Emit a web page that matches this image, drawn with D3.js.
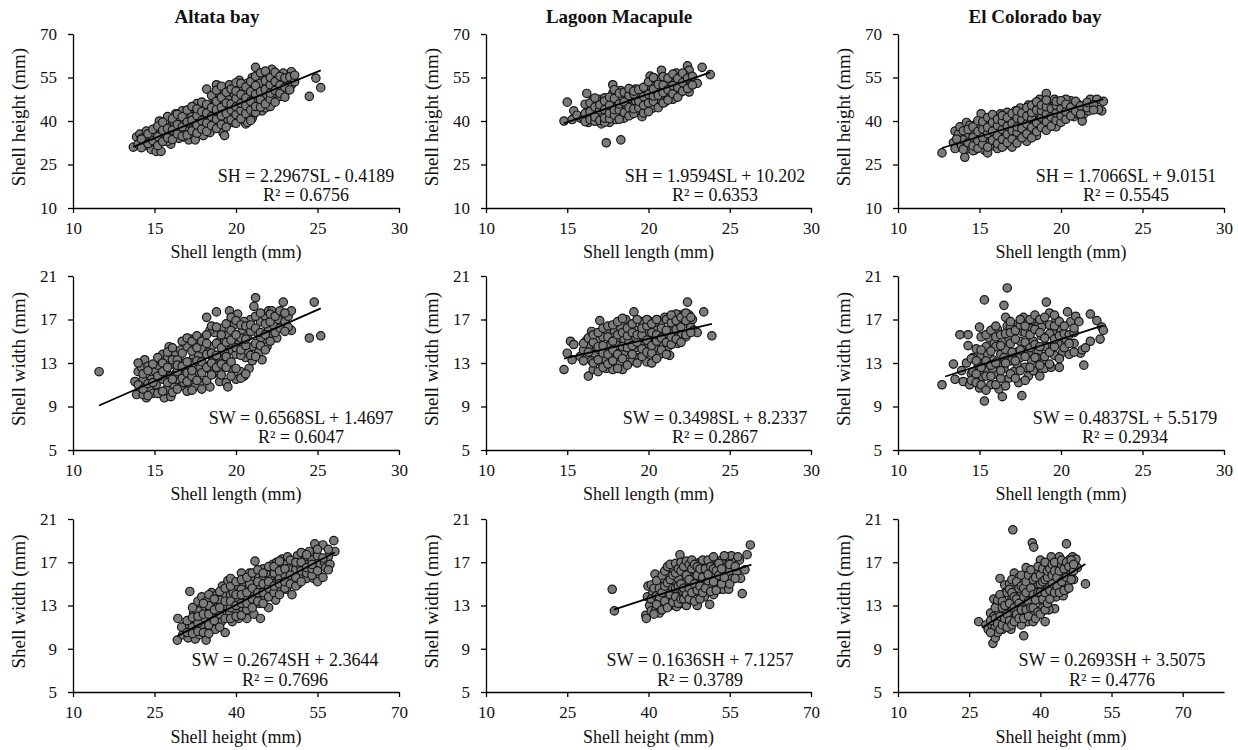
<!DOCTYPE html>
<html>
<head>
<meta charset="utf-8">
<title>Shell morphometry</title>
<style>
  body { margin: 0; background: #fff; font-family: "Liberation Serif", "Times New Roman", serif; }
  .axis path, .axis line { stroke: #000; stroke-width: 1.3; }
  .axis text { font-size: 17px; fill: #111; font-family: "Liberation Serif", "Times New Roman", serif; }
  .dot { fill: #7b7b7b; stroke: #151515; stroke-width: 1.2; }
  .trend { stroke: #000; stroke-width: 1.8; fill: none; }
</style>
</head>
<body>
<script src="https://cdn.jsdelivr.net/npm/d3@7"></script>
<script>
// ---- tick labels / titles ----
var slTicks = [10, 15, 20, 25, 30];
var shTicks = [10, 25, 40, 55, 70];
var swTicks = [5, 9, 13, 17, 21];
var sites = ['Altata bay', 'Lagoon Macapule', 'El Colorado bay'];

// ---- equations printed on each panel (row by row) ----
var equations = [
  'SH = 2.2967SL - 0.4189', 'SH = 1.9594SL + 10.202', 'SH = 1.7066SL + 9.0151',
  'SW = 0.6568SL + 1.4697', 'SW = 0.3498SL + 8.2337', 'SW = 0.4837SL + 5.5179',
  'SW = 0.2674SH + 2.3644', 'SW = 0.1636SH + 7.1257', 'SW = 0.2693SH + 3.5075'
];
var rSquared = ['0.6756', '0.6353', '0.5545', '0.6047', '0.2867', '0.2934', '0.7696', '0.3789', '0.4776'];

// trend line end points [[x0,y0],[x1,y1]]
var trends = [
  [[13.7, 31.05], [25.2, 57.46]], [[14.8, 39.2], [23.8, 56.8]], [[12.7, 30.69], [22.6, 47.58]],
  [[11.6, 9.09], [25.2, 18.02]], [[14.8, 13.41], [23.9, 16.59]], [[12.9, 11.76], [22.6, 16.45]],
  [[29.2, 10.17], [58.2, 17.93]], [[33.6, 12.62], [59.0, 16.78]], [[27.8, 10.99], [49.5, 16.84]]
];

// ---- Altata bay: shell length vs shell height ----
var altataSLSH = [
  [13.7,31],[13.9,34.5],[14.0,32],[14.1,35.5],[14.3,33],[14.5,36.5],[14.4,31.5],[14.6,34],[14.8,30.2],[14.9,35.5],[14.2,34],[14.7,32.5],
  [15.1,29.5],[15.4,29.5],[15.2,33],[15.3,36],[15.3,40],[15.6,38],[15.7,34],[15.8,41.5],[15.9,36.5],[16.0,32],[16.1,39],[15.5,35],[16.2,35],[15.1,37.5],[15.8,33],
  [16.3,42.5],[16.4,37],[16.5,34],[16.6,40],[16.7,43.5],[16.8,36],[16.9,38.5],[17.0,41],[17.1,33.5],[16.2,39.5],[16.5,36],[17.0,36.5],[16.8,34.5],[16.4,41],
  [17.2,44],[17.3,39],[17.4,35],[17.5,42],[17.6,46],[17.7,37],[17.8,40.5],[17.9,44.5],[18.0,35],[17.5,33.5],[18.1,38],[18.0,42.5],[17.3,41.5],[17.7,39],[17.4,37],
  [18.2,51],[18.3,40],[18.4,45],[18.5,37],[18.6,48],[18.7,42.5],[18.8,52.5],[18.9,39],[19.0,46],[18.4,36],[18.9,49.5],[19.0,43],[18.6,44],[18.3,42],[18.8,47],
  [19.2,36],[19.3,50],[19.4,44],[19.5,40],[19.6,52.5],[19.7,47],[19.8,42],[19.9,49],[20.0,45],[19.3,35],[19.5,47.5],[20.0,51.5],[19.8,39.5],[19.2,42.5],[19.6,45.5],
  [20.2,54],[20.3,47],[20.4,42],[20.5,50.5],[20.6,39],[20.7,53],[20.8,45],[20.9,48.5],[21.0,41],[20.5,44.5],[21.0,55],[20.7,39.5],[20.3,51.5],[20.8,43],[20.6,47.5],
  [21.2,58.5],[21.3,50],[21.4,46],[21.5,54.5],[21.6,43.5],[21.7,52],[21.8,48],[21.9,56],[22.0,45],[21.5,51],[22.0,50.5],[21.2,47.5],[21.4,53],[21.8,44.5],
  [22.2,57.8],[22.3,53],[22.4,49],[22.5,55.5],[22.6,51.5],[22.8,54],[22.9,56.5],[23.0,50],[23.2,53],[23.4,57],[23.4,52.5],[22.1,45],[22.7,48.5],[22.2,51],
  [24.5,48.5],[24.9,54.8],[25.2,51.5]
];
// extra readings of the dense core: [x, y, y, ...]
var altataSLSHCore = [
  [14.2,30.8,33.8],[14.6,32.2,35.6],[14.9,33.2,37.1],[15.2,31.5,34.6,38.2],[15.5,32.9,36.8,39.6],[15.8,34.2,37.4],[16.1,33.6,36.9,40.8],
  [16.4,35.5,38.8,42.3],[16.7,34.8,38.0,41.5],[17.0,35.2,39.6,43.8],[17.3,36.6,40.2,45.0],[17.6,35.8,38.6,41.9,44.2],[17.9,37.2,40.1,43.2,46.5],
  [18.2,36.4,39.3,42.7,45.7],[18.5,38.4,41.5,44.6,48.8],[18.8,37.4,40.6,43.9,46.8,50.6],[19.1,38.8,41.8,44.7,48.1,52.0],[19.4,37.9,42.6,46.2,49.9],
  [19.7,40.4,43.8,45.9,51.0],[20.0,39.2,42.2,44.9,47.8,50.3,53.2],[20.3,40.8,43.6,46.1,49.2,53.0],[20.6,42.6,45.3,48.0,51.8],[20.9,40.2,43.8,46.8,50.1,53.6],
  [21.2,42.9,45.0,49.3,52.2,55.4],[21.5,44.8,47.4,50.1,56.6],[21.8,45.9,50.9,53.9,57.2],[22.1,47.6,49.6,52.5,55.0],[22.4,46.5,50.6,53.6,56.8],
  [22.7,49.6,52.4,55.4],[23.0,48.2,51.6,54.8],[23.3,50.7,55.2],[23.6,53.5,55.8]
];

// ---- Lagoon Macapule: shell length vs shell height ----
var macapuleSLSH = [
  [14.8,40],[15.0,46.5],[15.4,43.5],[15.3,40.5],[15.8,41],[16.2,49.5],[17.4,32.5],[18.3,33.5],[15.6,42],
  [16.0,41],[16.2,43],[16.3,39.5],[16.5,45],[16.6,47.5],[16.7,42],[16.8,40.5],[16.9,44],[17.0,47.5],[16.4,41.5],[17.0,42.5],[16.6,44],
  [17.1,39],[17.2,45.5],[17.3,48],[17.4,41.5],[17.5,43.5],[17.6,39.5],[17.7,46.5],[17.8,52.5],[17.9,41],[18.0,44.5],[17.5,47],[17.8,49.5],[18.0,40.5],[17.2,42.5],[17.7,44],
  [18.1,47.5],[18.2,42],[18.3,50.5],[18.4,45],[18.5,41],[18.6,48.5],[18.7,43.5],[18.8,46],[18.9,50.5],[19.0,42.5],[18.4,44],[18.9,47.5],[18.2,48.5],[18.6,45.5],
  [19.1,45.5],[19.2,51],[19.3,43],[19.4,48.5],[19.5,46],[19.6,41.5],[19.7,50],[19.8,44.5],[19.9,52],[20.0,47.5],[19.5,49.5],[20.0,44],[19.2,47],[19.7,47.5],
  [20.1,55.5],[20.2,49.5],[20.3,44.5],[20.4,52],[20.5,47.5],[20.6,50.5],[20.7,53.5],[20.8,57.5],[20.9,48],[21.0,51.5],[20.5,54.5],[21.0,46.5],[20.3,50],
  [21.1,54],[21.2,49.5],[21.3,52.5],[21.4,48],[21.5,55],[21.6,51],[21.7,56.5],[21.8,49.5],[21.9,53.5],[22.0,50],[21.5,47.5],[22.0,55.5],[21.6,53],
  [22.1,52],[22.3,54.5],[22.4,59],[22.5,57.5],[22.6,53.5],[22.5,50],[23.0,53],[23.3,58.5],[23.8,56],[22.2,56]
];
var macapuleSLSHCore = [
  [16.1,39.8,42.6,45.8],[16.4,40.5,43.2,46.2],[16.7,39.9,41.4,44.8,47.9],[17.0,40.2,43.8,45.6],[17.3,39.6,41.0,44.0,46.9],[17.6,40.8,42.7,45.4,48.2],
  [17.9,42.0,43.9,47.8,50.8],[18.2,40.6,43.8,45.9,49.6],[18.5,42.9,46.6,49.9],[18.8,41.8,44.6,48.8,51.2],[19.1,42.6,44.2,49.3,50.3],[19.4,44.6,46.8,50.9],
  [19.7,42.8,45.4,48.4,51.6],[20.0,43.2,46.2,49.2,53.5],[20.3,46.8,48.6,51.0,55.0],[20.6,44.6,48.9,52.6],[20.9,46.2,49.8,52.4,55.3],[21.2,47.2,50.8,54.8],
  [21.5,49.4,52.2,56.2],[21.8,48.2,51.6,54.6],[22.1,50.3,53.2,56.5],[22.4,51.2,54.8],[22.7,52.4,55.4]
];

// ---- El Colorado bay: shell length vs shell height ----
var coloradoSLSH = [
  [12.7,29],[13.4,32.5],[13.5,30.5],[13.5,36.5],[13.7,35.5],[13.8,38],[13.9,31.5],[14.1,27.5],[14.2,39.5],[14.3,35],[14.3,30.5],[14.0,33.5],
  [14.4,38.5],[14.5,33],[14.6,36],[14.7,30],[14.8,39],[14.9,34.5],[15.0,31.5],[15.0,37.5],[14.6,29.8],[14.8,32],
  [15.1,42.5],[15.2,35.5],[15.3,30],[15.4,38.5],[15.5,33],[15.5,29],[15.6,40.5],[15.7,36],[15.8,31.5],[15.9,38],[16.0,34],[16.0,41.5],[15.3,33.5],[15.6,35],
  [16.1,30.5],[16.2,37],[16.3,42.5],[16.4,35],[16.5,31.5],[16.6,39.5],[16.7,43],[16.8,36.5],[16.9,33],[17.0,40.5],[16.5,38],[17.0,31],[16.3,33.5],[16.8,34.5],
  [17.1,37.5],[17.2,43.5],[17.3,34.5],[17.4,40],[17.5,44.5],[17.6,36],[17.7,41.5],[17.8,38.5],[17.9,33],[18.0,45.5],[17.5,38.5],[18.0,42],[17.2,39.5],[17.8,36],
  [18.1,36],[18.2,43],[18.3,40],[18.4,46],[18.5,37.5],[18.6,42],[18.7,47.5],[18.8,39],[18.9,44.5],[19.0,41],[18.5,35],[19.0,46.5],[18.3,44.5],[18.7,40.5],
  [19.1,49.5],[19.2,43],[19.3,39.5],[19.4,46],[19.5,42],[19.6,47.5],[19.7,38],[19.8,44],[19.9,40.5],[20.0,45.5],[19.5,45],[20.0,42],
  [20.2,41],[20.4,44.5],[20.5,43],[20.6,47],[20.8,41.5],[21.0,46],[20.3,47.5],[20.7,44.5],[21.0,42.5],
  [21.2,44.5],[21.3,40],[21.4,42.5],[21.5,45.5],[21.8,47.5],[21.7,43.5],[22.2,47.5],[22.5,43.5],[22.6,46.8],[22.3,44]
];
var coloradoSLSHCore = [
  [13.6,33.8],[14.0,36.6,30.2],[14.3,32.5,37.1],[14.6,31.4,34.4,38.0],[14.9,30.6,33.2,36.4,40.1],[15.2,32.0,34.3,37.2,39.8],[15.5,31.0,35.6,37.8,41.2],
  [15.8,33.4,36.5,39.5,42.2],[16.1,32.2,35.0,38.4,40.6],[16.4,31.0,33.7,37.0,39.8,41.9],[16.7,32.6,35.5,38.2,41.2],[17.0,33.8,36.7,39.2,42.6],
  [17.3,32.4,36.1,38.0,41.0,43.5],[17.6,34.2,37.4,40.4,42.8],[17.9,35.6,39.0,41.7,44.6],[18.2,34.2,37.8,40.9,42.9,45.4],[18.5,36.3,39.4,43.8,46.6],
  [18.8,37.8,41.2,43.5,45.5],[19.1,36.8,39.8,42.4,44.9,47.2],[19.4,38.2,41.4,44.3],[19.7,40.2,42.8,45.4,46.8],[20.0,39.5,41.8,44.2,47.0],
  [20.3,40.6,43.2,45.8],[20.6,41.8,44.8],[20.9,43.4,46.8],[21.2,42.4,45.2],[21.6,44.6,46.4],[22.0,45.6,43.8]
];

// ---- Altata bay: shell length vs shell width ----
var altataSLSW = [
  [11.6,12.2],
  [13.8,11.3],[13.9,10.1],[14.0,12.2],[14.1,10.8],[14.2,12.6],[14.3,11.5],[14.4,13.3],[14.5,9.8],[14.6,12.7],[14.7,10.5],[14.8,11.5],[14.9,10.2],[15.0,12.3],[14.3,10.1],
  [15.1,11],[15.2,12.8],[15.3,10.2],[15.4,13.2],[15.5,11.5],[15.6,9.8],[15.7,12.3],[15.8,10.7],[15.9,14.5],[16.0,11.8],[16.0,9.9],[15.5,13.8],[15.8,13.5],[15.3,11.8],
  [16.1,12.9],[16.2,10.8],[16.3,13.8],[16.4,11.5],[16.5,12.5],[16.6,14.2],[16.7,10.9],[16.8,13],[16.9,11.8],[17.0,14.5],[16.6,12],[17.0,10.4],[16.3,12],[16.8,11.2],
  [17.1,12.5],[17.2,15.2],[17.3,11],[17.4,13.5],[17.5,14.8],[17.6,12],[17.7,13.8],[17.8,11.2],[17.9,14.3],[18.0,12.8],[17.5,10.8],[18.0,15.3],[17.3,13],[17.8,12.6],
  [18.2,17.2],[18.3,12.5],[18.4,10.8],[18.5,14.5],[18.6,12],[18.7,15.8],[18.8,17.7],[18.9,13.5],[19.0,11.3],[19.0,15],[18.4,16],[18.6,13.4],[18.9,12.3],[18.3,14],
  [19.1,16.2],[19.2,13],[19.3,15],[19.4,11.2],[19.5,10.8],[19.6,17.8],[19.7,14.2],[19.8,12.4],[19.9,16.5],[20.0,13.8],[19.5,15.6],[19.8,17.2],[20.0,11.5],[19.3,14],
  [20.1,17.5],[20.2,14.8],[20.3,12.2],[20.4,16],[20.5,11.8],[20.6,13.5],[20.7,15.5],[20.8,12.5],[20.9,17],[21.0,14.5],[20.5,16.8],[21.0,13.2],[20.3,15.3],[20.7,14],
  [21.1,18.2],[21.2,19],[21.3,15.8],[21.4,14],[21.5,16.8],[21.6,13.3],[21.7,15],[21.8,17.3],[21.9,14.5],[22.0,16.2],[21.5,15.3],[22.0,17.8],
  [22.1,15.5],[22.2,17.8],[22.3,16.5],[22.5,15.3],[22.6,17],[22.8,16.3],[22.9,18.6],[23.0,16.8],[23.2,17.3],[23.4,17.8],[23.4,16],[23.2,16.3],
  [24.5,15.3],[24.8,18.6],[25.2,15.5]
];
var altataSLSWCore = [
  [14.0,11.0,13.0],[14.3,10.6,12.0],[14.6,11.1,12.3,10.0],[14.9,11.2,12.9],[15.2,10.2,11.8,13.5],[15.5,10.4,12.2,13.0],[15.8,11.2,12.6,14.0],
  [16.1,10.3,11.5,13.3,14.4],[16.4,10.6,12.2,13.3,12.8],[16.7,11.6,12.7,13.9,15.0],[17.0,11.3,12.1,13.1,15.3],[17.3,10.5,11.8,12.3,14.1,15.0],
  [17.6,11.4,13.2,14.4,15.5],[17.9,10.6,12.1,13.1,15.0],[18.2,11.4,12.6,13.8,14.8,15.6],[18.5,11.9,13.0,13.9,16.4],[18.8,12.6,13.7,14.8,16.3],
  [19.1,11.9,12.9,14.4,15.6],[19.4,12.6,13.6,14.9,16.6],[19.7,11.8,13.1,15.1,16.0,17.2],[20.0,12.5,14.4,15.6,16.9],[20.3,11.6,13.7,14.2,16.5],
  [20.6,12.0,14.6,15.2,16.4],[20.9,13.7,15.9,16.5],[21.2,13.6,14.8,16.2,17.3],[21.5,14.6,15.8,17.6],[21.8,14.2,15.6,16.6],[22.1,15.0,16.8,17.5],
  [22.4,15.8,17.3],[22.7,16.2,17.8],[23.0,15.9,17.6]
];

// ---- Lagoon Macapule: shell length vs shell width ----
var macapuleSLSW = [
  [14.8,12.4],[15.0,13.9],[15.2,15],[15.3,13.3],[15.4,14.7],[15.8,13.6],[16.0,14.2],[16.2,15.1],
  [16.2,13.5],[16.3,11.8],[16.4,14.6],[16.5,15.9],[16.6,12.4],[16.7,13.8],[16.8,15.2],[16.9,12.2],[17.0,16.9],[17.0,14.2],[16.5,13.2],[16.8,14.5],
  [17.1,13],[17.2,15.4],[17.3,14.2],[17.4,12.5],[17.5,15.9],[17.6,13.7],[17.7,14.8],[17.8,12.4],[17.9,16],[18.0,13.4],[17.5,14.5],[18.0,15.2],[17.3,13.4],
  [18.1,14.6],[18.2,12.9],[18.3,16.2],[18.4,12.4],[18.5,15.2],[18.6,17],[18.7,13.8],[18.8,14.9],[18.9,16.5],[19.0,13.2],[19.1,17.7],[18.5,14],[18.9,15.6],
  [19.2,14.4],[19.3,16],[19.4,13.5],[19.5,15.3],[19.6,16.8],[19.7,14],[19.8,15.8],[19.9,13.1],[20.0,16.9],[20.0,14.8],[19.5,14.6],[20.2,13],
  [20.3,15.5],[20.4,16.4],[20.5,14.2],[20.6,15.8],[20.7,13.8],[20.8,16.8],[20.9,14.8],[21.0,17.2],[21.0,15.5],[20.5,16],[21.2,14.5],
  [21.3,13.7],[21.4,16],[21.5,15],[21.6,16.6],[21.8,14.8],[21.9,17.4],[22.0,15.7],[22.1,16.8],[22.2,17.5],[22.3,15.4],[22.4,18.6],[22.5,17.4],[22.6,16.3],[21.7,17.5],
  [22.8,16],[23.0,15.8],[23.4,17.7],[23.9,15.5],[22.7,17]
];
var macapuleSLSWCore = [
  [16.0,13.2,14.8],[16.3,14.0,15.3],[16.6,13.0,14.9,15.6],[16.9,13.3,14.5,15.8],[17.2,12.6,13.9,14.6,16.2],[17.5,12.9,13.8,15.4,16.4],
  [17.8,13.2,14.2,15.0,16.5],[18.1,12.5,13.8,15.6,16.8],[18.4,13.4,14.5,15.8,17.1],[18.7,12.8,14.4,15.5,16.2],[19.0,13.8,14.6,15.8,16.6],
  [19.3,13.0,14.9,15.6,17.0],[19.6,13.6,14.3,15.6,16.2],[19.9,14.0,15.1,16.4,17.0],[20.2,13.9,14.6,15.8,16.6],[20.5,13.4,15.0,15.6,17.0],
  [20.8,14.2,15.3,16.2],[21.1,13.8,14.9,16.0,17.0],[21.4,14.7,15.4,16.7,17.4],[21.7,15.2,16.1,16.9],[22.0,14.9,16.3,17.2],[22.3,15.6,16.9,17.6],
  [22.6,15.8,17.2]
];

// ---- El Colorado bay: shell length vs shell width ----
var coloradoSLSW = [
  [12.7,11],[13.4,12.9],[13.5,11.5],[13.8,15.6],[13.9,12.3],[14.0,11.3],[14.2,13],[14.3,15.6],[14.3,14.6],[14.4,11],[14.5,12],[14.6,13.5],[14.7,11.5],[14.8,14.3],
  [14.9,12.6],[15.0,10.7],[15.0,16.3],[15.1,13.7],[15.2,11.7],[15.3,9.5],[15.3,18.8],[15.4,14.5],[15.5,12.3],[15.6,15.3],[15.7,11],[15.8,13.3],[15.9,14.8],[16.0,12],
  [16.1,16.1],[16.2,10.6],[16.3,13.8],[16.4,9.9],[16.4,15],[16.5,18.3],[16.5,12.5],[16.6,14.2],[16.7,19.9],[16.7,16.4],[16.8,11.6],[16.9,13.2],[17.0,15.5],[17.1,12.2],
  [17.2,16.5],[17.3,14],[17.4,11.2],[17.5,13.5],[17.6,10],[17.6,15.9],[17.7,17.2],[17.8,12.6],[17.9,14.6],[18.0,11.8],[18.1,16.2],[18.2,13.2],[18.3,15],[18.4,12.3],
  [18.5,16.8],[18.6,14],[18.7,11.8],[18.8,15.5],[18.9,13.3],[19.0,16.6],[19.0,12.5],[19.1,18.6],[19.2,14.5],[19.3,17.6],[19.4,12.6],[19.5,15.8],[19.6,13.7],[19.7,17],
  [19.8,14.8],[19.9,12.6],[20.0,16],[20.1,14],[20.3,15.2],[20.4,17.7],[20.5,13.8],[20.6,16.8],[20.8,14.8],[20.9,17.3],[21.1,16.8],[21.2,13.9],[21.3,14.2],[21.4,12.8],
  [21.5,14.4],[21.8,17.5],[21.8,15],[22.2,16.9],[22.4,15.2],[22.5,16.3],[22.6,16],
  [15.5,13.8],[16.0,14.5],[16.5,13.5],[17.0,14],[17.5,15],[18.0,14],[18.5,13.5],[19.0,14.5],[16.2,12.8],[17.3,12.9],[18.3,12.3],[19.3,15.7],[15.8,12.5],[17.8,15.8],
  [18.8,16.3],[16.8,15.3],[15.2,12.9],[14.6,12.2],[16.9,16.3],[18.2,16.9]
];
var coloradoSLSWCore = [
  [14.5,11.4,13.4],[14.8,12.0,11.2,13.2],[15.1,11.0,12.6,14.2,15.4],[15.4,10.5,11.8,13.2,15.6],[15.7,11.8,12.8,14.1,16.0],[16.0,11.0,13.0,15.4,16.4],
  [16.3,11.6,12.3,14.6,15.6],[16.6,10.9,13.0,15.7,17.2],[16.9,12.0,14.8,15.8,16.8],[17.2,11.6,13.2,15.2,16.0],[17.5,12.3,14.2,16.5,17.0],
  [17.8,11.4,13.6,14.9,16.4],[18.1,12.6,14.4,15.6,17.0],[18.4,13.5,14.7,16.1,17.4],[18.7,12.8,14.5,15.8,17.0],[19.0,13.6,15.3,17.2],
  [19.3,12.9,14.0,16.5],[19.6,14.5,15.2,16.4,17.4],[19.9,13.4,15.5,16.8],[20.2,14.4,15.7,16.4],[20.5,14.8,15.6],[20.8,14.0,15.8,16.2]
];

// ---- Altata bay: shell height vs shell width ----
var altataSHSW = [
  [29.2,9.8],[29.3,11.8],[30.2,10.3],[30.8,11.2],[31.2,10],[31.5,14.3],[31.8,10.8],[32.2,12.3],[32.5,9.9],[32.8,11.5],[33.0,13.4],[33.3,10.3],[33.5,12],[33.7,13.8],
  [33.9,11],[34.2,12.8],[34.5,9.8],[34.6,10.6],[34.8,13.5],[35.0,11.8],[35.2,12.5],[35.5,14.2],[35.8,11.2],[36.0,13],[36.2,10.8],[36.5,14],[36.8,12],[37.0,13.5],
  [37.3,11.5],[37.5,14.8],[37.8,12.8],[38.0,10.5],[38.2,13.9],[38.5,15.3],[38.8,12.2],[39.0,14],[39.3,11.5],[39.5,13],[39.8,15],[40.0,12.5],[40.3,14.5],[40.5,11.8],
  [40.8,13.8],[41.0,16],[41.3,12.6],[41.5,15],[41.8,13.5],[42.0,11.8],[42.3,14.5],[42.5,16],[42.8,13],[43.0,15.3],[43.3,12.2],[43.5,17.1],[43.8,14],[44.0,15.8],
  [44.3,13.2],[44.5,11.8],[44.8,15],[45.0,16.4],[45.3,13.8],[45.5,14.8],[45.8,16.2],[46.0,12.8],[46.3,15.5],[46.5,14.2],[46.8,16.8],[47.0,15],[47.3,13.5],[47.5,17],
  [47.8,15.8],[48.0,14.5],[48.3,16.4],[48.5,17.3],[48.8,15.2],[49.0,16.8],[49.3,14.5],[49.5,17.5],[49.8,15.8],[50.0,16.5],[50.3,14],[50.5,17],[50.8,15.5],[51.0,16.3],
  [51.3,17.6],[51.5,15],[51.8,16.7],[52.0,17.9],[52.3,15.8],[52.5,16.5],[52.8,17.3],[53.0,15.5],[53.3,16.8],[53.5,18],[53.8,16],[54.0,17.2],[54.3,15.5],[54.5,18.7],
  [54.8,16.3],[55.0,17.6],[55.2,15.8],[55.5,16.8],[56.0,18.6],[56.3,17],[56.5,16.5],[57.0,17.5],[57.3,16.8],[58.0,19],[58.2,18],
  [33.0,12.5],[34.0,11.8],[35.0,13],[36.0,12],[37.0,12.2],[38.0,13],[39.0,12.8],[40.0,13.5],[41.0,14.5],[42.0,13.8],[43.0,14],[44.0,14.8],[45.0,15.5],[46.0,15.8],
  [47.0,16],[48.0,15.5],[49.0,15.8],[31.0,11.2],[32.0,11],[36.5,12.8],[39.5,14.2],[42.5,15],[45.5,16]
];
var altataSHSWCore = [
  [30.0,11.0],[31.0,10.5,11.6],[32.0,10.4,11.9,12.8],[33.0,10.6,11.4,12.0],[34.0,10.5,12.2,13.2],[35.0,10.4,11.2,12.2,14.0],[36.0,11.6,12.6,13.6],
  [37.0,11.0,12.8,14.3],[38.0,11.8,13.4,14.6],[39.0,11.8,13.4,14.8,15.5],[40.0,12.0,13.0,14.0,15.2],[41.0,12.1,13.2,14.0,15.4],[42.0,12.6,13.2,14.2,15.6],
  [43.0,12.8,13.6,14.6,16.0],[44.0,13.4,14.2,15.2,16.3],[45.0,13.2,14.2,15.0,16.0],[46.0,13.8,14.6,15.2,16.6],[47.0,14.2,14.8,16.6],
  [48.0,14.0,15.0,16.2,17.1],[49.0,14.6,15.2,16.4],[50.0,15.0,15.8,17.2],[51.0,14.8,15.6,17.0],[52.0,15.2,16.2,17.0],[53.0,16.0,16.5,17.7],
  [54.0,15.8,16.4,16.8],[55.0,15.2,16.2,18.2],[56.0,15.6,17.4],[57.0,16.3,18.2]
];

// ---- Lagoon Macapule: shell height vs shell width ----
var macapuleSHSW = [
  [33.3,14.5],[33.7,12.5],
  [39.5,12.1],[39.6,11.8],[39.8,13.8],[39.9,14.8],[40.2,13],[40.5,12.5],[40.8,14.2],[41.0,13.5],[41.2,15.9],[41.3,12.5],[41.5,14.8],[41.8,13.3],[42.0,12.3],[42.0,15.2],
  [42.3,14],[42.5,13],[42.7,15.5],[43.0,12.8],[43.2,14.5],[43.5,13.6],[43.8,15.8],[44.0,13],[44.2,14.8],[44.5,16.3],[44.8,13.5],[45.0,15.2],[45.2,12.9],[45.4,14.2],
  [45.6,16.7],[45.8,17.7],[46.0,14.5],[46.2,13.2],[46.5,15.5],[46.8,16.8],[47.0,13],[47.2,14.8],[47.5,16.2],[47.8,13.5],[48.0,15.6],[48.2,17],[45.5,15.5],[46.5,14],
  [48.5,14.3],[48.8,16.5],[49.0,13],[49.2,15.2],[49.5,17],[49.8,14],[50.0,16],[50.3,13.8],[50.5,15.3],[50.8,17],[51.0,14.8],[51.2,16.3],[51.3,13.1],[49.5,15.8],
  [51.5,15.5],[51.8,17],[52.0,14],[52.3,16],[52.5,15],[52.8,16.8],[53.0,14.5],[53.3,15.8],[53.5,17.2],[53.8,14.5],[54.0,16.5],[54.3,15.2],[54.5,17.5],[54.8,14.5],
  [55.0,16.2],[55.3,17.6],[55.5,15.5],[56.0,17],[56.3,16],[56.8,17.2],[57.0,15.5],[57.3,14.1],[57.8,16.3],[58.2,17.7],[58.8,18.6],[56.5,17.5],
  [43.5,14.2],[47.0,15.2],[50.0,14.8],[44.5,14],[48.5,15.5]
];
var macapuleSHSWCore = [
  [40.5,13.6,14.9],[41.0,12.2,14.6],[41.5,13.1,13.9,15.3],[42.0,13.8,14.6],[42.5,12.6,14.2,15.8],[43.0,13.4,14.8,16.2],[43.5,12.8,15.1,16.6],
  [44.0,14.0,15.4,16.8],[44.5,13.3,14.6,15.8],[45.0,13.8,14.6,16.0,16.9],[45.5,13.2,14.8,16.4],[46.0,13.6,15.0,16.2,17.0],[46.5,13.6,14.6,16.6],
  [47.0,14.0,15.8,17.1],[47.5,13.6,14.6,15.4,16.8],[48.0,14.2,16.4,17.2],[48.5,13.4,15.0,16.8],[49.0,14.4,15.8,16.6],[49.5,13.6,14.8,16.4],
  [50.0,14.2,15.6,17.2],[50.5,14.6,16.4],[51.0,15.3,15.9,17.2],[51.5,14.3,16.6],[52.0,15.2,16.4,17.5],[52.5,14.4,16.2],[53.0,15.8,16.9],
  [53.5,15.0,16.4],[54.0,15.6,17.6],[55.0,15.0,16.8],[56.0,15.5,16.6]
];

// ---- El Colorado bay: shell height vs shell width ----
var coloradoSHSW = [
  [27.0,11.5],[30.0,9.5],[30.5,10],[36.5,10.2],[41.0,11.5],[43.0,12.7],[34.2,20],[38.3,18.8],[38.6,18.4],[45.5,18.7],[49.5,15],[31.5,15.5],[30.2,13.6],[32.5,14.9],
  [28.5,11.2],[29.0,10.8],[29.5,12.3],[29.8,11.2],[30.2,12],[30.5,11],[30.8,13],[31.0,10.5],[31.3,12.3],[31.6,11.5],[31.8,13.8],[32.0,10.8],[32.3,12.5],[32.6,14.2],
  [32.8,11.3],[33.0,13.2],[33.3,12],[33.5,15],[33.8,10.8],[34.0,13.8],[34.3,12.4],[34.5,16],[34.8,11.8],[35.0,14.6],[35.3,13],[35.5,15.6],[35.8,11.6],[36.0,14],
  [36.3,12.5],[36.5,15.3],[36.8,13.4],[37.0,16.5],[37.3,11.5],[37.5,14.6],[37.8,12.8],[38.0,15.8],[38.3,13.5],[38.5,11.5],[38.8,14.8],[39.0,16.2],[39.3,12.5],[39.5,15],
  [39.8,13.6],[40.0,17.2],[40.3,14.4],[40.5,12.8],[40.8,15.8],[41.0,13.5],[41.3,16.6],[41.5,14.8],[41.8,12.6],[42.0,15.5],[42.3,17.5],[42.5,14],[42.8,16.2],[43.0,15],
  [43.3,13.8],[43.5,16.8],[43.8,15.3],[44.0,17.5],[44.3,14.6],[44.5,16],[44.8,13.9],[45.0,15.5],[45.3,17],[45.5,14.5],[45.8,16.3],[46.0,15.2],[46.3,17.3],[46.5,16],
  [46.8,17.5],[47.0,15.4],[47.3,16.8],[47.5,17.3],[47.8,16.5],
  [32.0,12],[33.0,12.8],[34.0,12.5],[35.0,13.5],[36.0,13.2],[37.0,13.8],[38.0,14],[39.0,14.2],[40.0,15],[41.0,15.2],[42.0,14.8],[43.0,15.8],[44.0,15.5],[36.0,11.2],
  [38.0,12.2],[40.0,13.5]
];
var coloradoSHSWCore = [
  [29.5,10.5,11.6],[30.5,11.8,12.8],[31.0,11.3,13.5],[31.5,10.8,12.0,14.0],[32.0,11.2,12.8,13.4],[32.5,11.8,13.0],[33.0,11.0,12.2,14.2],
  [33.5,11.6,13.2,14.5],[34.0,11.2,14.2,15.4],[34.5,11.5,12.8,13.8],[35.0,12.2,13.6,15.2],[35.5,11.8,13.2,14.6],[36.0,12.6,14.8,15.8],
  [36.5,11.8,13.8,14.6],[37.0,12.6,14.2,15.2],[37.5,12.0,13.4,15.8],[38.0,12.8,14.6,16.3],[38.5,12.8,14.0,15.4],[39.0,11.8,13.5,15.6],
  [39.5,12.4,14.2,16.6],[40.0,12.2,14.2,15.8],[40.5,13.6,15.2,16.4],[41.0,12.6,14.2,15.4,17.0],[41.5,13.2,15.6,16.2],[42.0,13.6,14.4,16.4],
  [42.5,15.0,15.8,16.8],[43.0,14.2,16.2,17.0],[43.5,14.8,15.6],[44.0,14.2,16.2],[44.5,15.2,16.8,17.2],[45.0,14.4,16.4],[45.5,15.6,17.0],
  [46.0,14.6,16.6],[46.5,15.4,17.2],[47.0,16.2,16.8]
];

// turn [x, y, y, ...] rows into [x, y] points
function unpack(rows) {
  var out = [];
  rows.forEach(function(r) {
    for (var k = 1; k < r.length; k++) out.push([r[0], r[k]]);
  });
  return out;
}

// ---- layout ----
var width = 1238, height = 750;
var colLeft = [73, 486, 898];
var colRight = [399, 811, 1224];
var rowTop = [34, 276, 519];
var rowBottom = [208, 450, 692];
var titleX = [217, 619, 1035];
var eqX = [306, 715, 1126, 301, 715, 1125, 285, 700, 1112];
var eqY = [[182, 201], [424, 443], [666, 686]];
var xTitleY = [258, 500, 743];

var panels = [
  { data: altataSLSH.concat(unpack(altataSLSHCore)), xTicks: slTicks, yTicks: shTicks, xDom: [10, 30], yDom: [10, 70], xLab: 'Shell length (mm)', yLab: 'Shell height (mm)' },
  { data: macapuleSLSH.concat(unpack(macapuleSLSHCore)), xTicks: slTicks, yTicks: shTicks, xDom: [10, 30], yDom: [10, 70], xLab: 'Shell length (mm)', yLab: 'Shell height (mm)' },
  { data: coloradoSLSH.concat(unpack(coloradoSLSHCore)), xTicks: slTicks, yTicks: shTicks, xDom: [10, 30], yDom: [10, 70], xLab: 'Shell length (mm)', yLab: 'Shell height (mm)' },
  { data: altataSLSW.concat(unpack(altataSLSWCore)), xTicks: slTicks, yTicks: swTicks, xDom: [10, 30], yDom: [5, 21], xLab: 'Shell length (mm)', yLab: 'Shell width (mm)' },
  { data: macapuleSLSW.concat(unpack(macapuleSLSWCore)), xTicks: slTicks, yTicks: swTicks, xDom: [10, 30], yDom: [5, 21], xLab: 'Shell length (mm)', yLab: 'Shell width (mm)' },
  { data: coloradoSLSW.concat(unpack(coloradoSLSWCore)), xTicks: slTicks, yTicks: swTicks, xDom: [10, 30], yDom: [5, 21], xLab: 'Shell length (mm)', yLab: 'Shell width (mm)' },
  { data: altataSHSW.concat(unpack(altataSHSWCore)), xTicks: shTicks, yTicks: swTicks, xDom: [10, 70], yDom: [5, 21], xLab: 'Shell height (mm)', yLab: 'Shell width (mm)' },
  { data: macapuleSHSW.concat(unpack(macapuleSHSWCore)), xTicks: shTicks, yTicks: swTicks, xDom: [10, 70], yDom: [5, 21], xLab: 'Shell height (mm)', yLab: 'Shell width (mm)' },
  { data: coloradoSHSW.concat(unpack(coloradoSHSWCore)), xTicks: shTicks, yTicks: swTicks, xDom: [10, 78.7], yDom: [5, 21], xLab: 'Shell height (mm)', yLab: 'Shell width (mm)' }
];

var svg = d3.select('body').append('svg')
  .attr('width', width)
  .attr('height', height)
  .style('font-family', '"Liberation Serif", "Times New Roman", serif');

// site titles
svg.selectAll('.site')
  .data(sites)
  .enter()
  .append('text')
  .attr('class', 'site')
  .attr('x', function(d, i) { return titleX[i]; })
  .attr('y', 23)
  .attr('text-anchor', 'middle')
  .style('font-size', '19px')
  .style('font-weight', 'bold')
  .style('fill', '#111')
  .text(function(d) { return d; });

panels.forEach(function(p, i) {
  var col = i % 3, row = Math.floor(i / 3);

  var x = d3.scaleLinear().domain(p.xDom).range([colLeft[col], colRight[col]]);
  var y = d3.scaleLinear().domain(p.yDom).range([rowBottom[row], rowTop[row]]);

  var g = svg.append('g').attr('class', 'panel');

  // axes
  g.append('g')
    .attr('class', 'axis')
    .attr('transform', 'translate(0,' + rowBottom[row] + ')')
    .call(d3.axisBottom(x).tickValues(p.xTicks).tickSize(5).tickSizeOuter(0).tickPadding(9));

  g.append('g')
    .attr('class', 'axis')
    .attr('transform', 'translate(' + colLeft[col] + ',0)')
    .call(d3.axisLeft(y).tickValues(p.yTicks).tickSize(5).tickSizeOuter(0).tickPadding(11));

  // points
  g.selectAll('.dot')
    .data(p.data)
    .enter()
    .append('circle')
    .attr('class', 'dot')
    .attr('cx', function(d) { return x(d[0]); })
    .attr('cy', function(d) { return y(d[1]); })
    .attr('r', 4.2);

  // trend line
  g.append('path')
    .datum(trends[i])
    .attr('class', 'trend')
    .attr('d', d3.line().x(function(d) { return x(d[0]); }).y(function(d) { return y(d[1]); }));

  // equation + R²
  g.append('text')
    .attr('x', eqX[i])
    .attr('y', eqY[row][0])
    .attr('text-anchor', 'middle')
    .style('font-size', '18px')
    .style('fill', '#111')
    .text(equations[i]);

  g.append('text')
    .attr('x', eqX[i])
    .attr('y', eqY[row][1])
    .attr('text-anchor', 'middle')
    .style('font-size', '18px')
    .style('fill', '#111')
    .text('R² = ' + rSquared[i]);

  // axis labels
  g.append('text')
    .attr('x', (colLeft[col] + colRight[col]) / 2)
    .attr('y', xTitleY[row])
    .attr('text-anchor', 'middle')
    .style('font-size', '18px')
    .style('fill', '#111')
    .text(p.xLab);

  var ly = (rowTop[row] + rowBottom[row]) / 2 - 4;
  var lx = colLeft[col] - 48;
  g.append('text')
    .attr('transform', 'translate(' + lx + ',' + ly + ') rotate(-90)')
    .attr('text-anchor', 'middle')
    .style('font-size', '19px')
    .style('fill', '#111')
    .text(p.yLab);
});
</script>
</body>
</html>
